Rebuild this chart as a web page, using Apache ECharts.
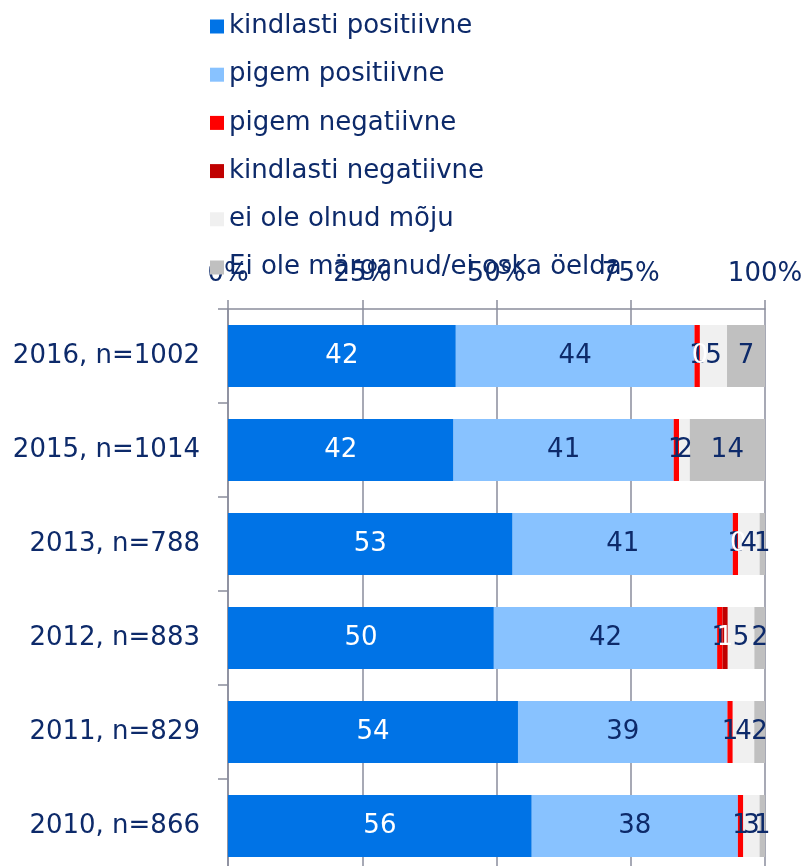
<!DOCTYPE html>
<html>
<head>
<meta charset="utf-8">
<script src="https://cdn.jsdelivr.net/npm/echarts@6/dist/echarts.min.js"></script>
<style>html,body{margin:0;padding:0;background:#fff;}#c{width:807px;height:866px;}</style>
</head>
<body>
<div id="c"></div>
<script>
const categories = ['2016, n=1002', '2015, n=1014', '2013, n=788', '2012, n=883', '2011, n=829', '2010, n=866'];
const seriesNames = ['kindlasti positiivne', 'pigem positiivne', 'pigem negatiivne', 'kindlasti negatiivne', 'ei ole olnud mõju', 'Ei ole märganud/ei oska öelda'];
const kindlastiPositiivne = [42, 42, 53, 50, 54, 56];
const pigemPositiivne = [44, 41, 41, 42, 39, 38];
const pigemNegatiivne = [1, 1, 1, 1, 1, 1];
const kindlastiNegatiivne = [0, null, 0, 1, null, null];
const eiOleMoju = [5, 2, 4, 5, 4, 3];
const eiOleMarganud = [7, 14, 1, 2, 2, 1];
const xTickLabels = ['0%', '25%', '50%', '75%', '100%'];

const allValues = [kindlastiPositiivne, pigemPositiivne, pigemNegatiivne, kindlastiNegatiivne, eiOleMoju, eiOleMarganud];
const colors = ['#0073e6', '#88c2ff', '#ff0000', '#c00000', '#f0f0f0', '#c0c0c0'];
const labelColors = ['#ffffff', '#0d2a6a', '#0d2a6a', '#ffffff', '#0d2a6a', '#0d2a6a'];
const navy = '#0d2a6a';
const font = 'Verdana, "DejaVu Sans", sans-serif';

const totals = categories.map((c, i) => allValues.reduce((s, arr) => s + (arr[i] || 0), 0));

const series = allValues.map((arr, si) => ({
  name: seriesNames[si],
  type: 'bar',
  stack: 'total',
  barWidth: 62,
  itemStyle: { color: colors[si] },
  label: {
    show: true,
    position: 'inside',
    color: labelColors[si],
    fontSize: 26,
    fontFamily: font,
    formatter: p => (p.data && p.data.raw != null) ? String(p.data.raw) : ''
  },
  data: arr.map((v, i) => v == null ? null : { value: v / totals[i] * 100, raw: v })
}));

const chart = echarts.init(document.getElementById('c'), null, { renderer: 'canvas' });
chart.setOption({
  backgroundColor: '#ffffff',
  animation: false,
  legend: {
    orient: 'vertical',
    left: 205,
    top: 6.5,
    itemWidth: 14,
    itemHeight: 14,
    itemGap: 18.2,
    icon: 'rect',
    data: seriesNames,
    textStyle: { color: navy, fontSize: 26, fontFamily: font, lineHeight: 30 }
  },
  grid: { left: 228, top: 309, width: 537, height: 564, containLabel: false, outerBoundsMode: 'none' },
  xAxis: {
    type: 'value',
    position: 'top',
    min: 0,
    max: 100,
    interval: 25,
    axisLine: { show: true, lineStyle: { color: '#8a8d9c', width: 1.5 } },
    axisTick: { show: true, inside: false, length: 9, lineStyle: { color: '#8a8d9c', width: 1.5 } },
    splitLine: { show: true, lineStyle: { color: '#8a8d9c', width: 1.5 } },
    axisLabel: {
      color: navy, fontSize: 26, fontFamily: font, margin: 22,
      formatter: v => xTickLabels[Math.round(v / 25)]
    }
  },
  yAxis: {
    type: 'category',
    inverse: true,
    data: categories,
    axisLine: { show: true, lineStyle: { color: '#8a8d9c', width: 1.5 } },
    axisTick: { show: true, length: 10, alignWithLabel: false, lineStyle: { color: '#8a8d9c', width: 1.5 } },
    axisLabel: { color: navy, fontSize: 26, fontFamily: font, margin: 28 }
  },
  series: series
});
</script>
</body>
</html>
